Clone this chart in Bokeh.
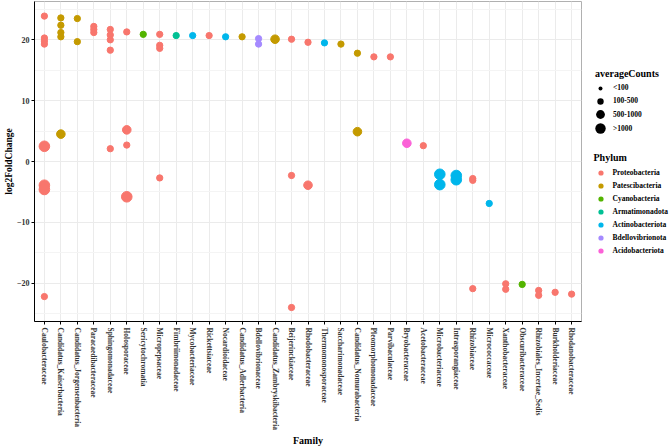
import math
from bokeh.plotting import figure
from bokeh.layouts import row
from bokeh.models import (ColumnDataSource, FactorRange, Range1d, Legend, LegendItem,
                          FixedTicker, CDSView, GroupFilter)
from bokeh.embed import file_html
from bokeh.resources import INLINE

# ---------------- data ----------------
families = [
    "Caulobacteraceae", "Candidatus_Kaiserbacteria", "Candidatus_Jorgensenbacteria",
    "Paracaedibacteraceae", "Sphingomonadaceae", "Holosporaceae", "Sericytochromatia",
    "Micropepsaceae", "Fimbriimonadaceae", "Mycobacteriaceae", "Rickettsiaceae",
    "Nocardioidaceae", "Candidatus_Adlerbacteria", "Bdellovibrionaceae",
    "Candidatus_Zambryskibacteria", "Beijerinckiaceae", "Rhodobacteraceae",
    "Thermomonosporaceae", "Saccharimonadaceae", "Candidatus_Nomurabacteria",
    "Pleomorphomonadaceae", "Parvibaculaceae", "Bryobacteraceae", "Acetobacteraceae",
    "Microbacteriaceae", "Intrasporangiaceae", "Rhizobiaceae", "Micrococcaceae",
    "Xanthobacteraceae", "Obscuribacteraceae", "Rhizobiales_Incertae_Sedis",
    "Burkholderiaceae", "Rhodanobacteraceae",
]

phyla = ["Proteobacteria", "Patescibacteria", "Cyanobacteria", "Armatimonadota",
         "Actinobacteriota", "Bdellovibrionota", "Acidobacteriota"]

count_levels = ["<100", "100-500", "500-1000", ">1000"]

point_family = []
point_lfc = []
point_phylum = []
point_counts = []

def add(fam, phy, vals):
    for v, c in vals:
        point_family.append(fam)
        point_lfc.append(v)
        point_phylum.append(phy)
        point_counts.append(c)

add("Caulobacteraceae", "Proteobacteria",
    [(23.9, "100-500"), (20.3, "100-500"), (19.8, "100-500"), (19.3, "100-500"),
     (2.5, ">1000"), (-3.9, ">1000"), (-4.6, ">1000"), (-22.2, "100-500")])
add("Candidatus_Kaiserbacteria", "Patescibacteria",
    [(23.6, "100-500"), (22.4, "100-500"), (21.2, "100-500"), (20.5, "100-500"),
     (4.5, "500-1000")])
add("Candidatus_Jorgensenbacteria", "Patescibacteria", [(23.5, "100-500"), (19.7, "100-500")])
add("Paracaedibacteraceae", "Proteobacteria",
    [(22.2, "100-500"), (21.7, "100-500"), (21.2, "100-500")])
add("Sphingomonadaceae", "Proteobacteria",
    [(21.7, "100-500"), (20.8, "100-500"), (20.0, "100-500"), (18.3, "100-500"),
     (2.1, "100-500")])
add("Holosporaceae", "Proteobacteria",
    [(21.3, "100-500"), (5.2, "500-1000"), (2.7, "100-500"), (-5.8, ">1000")])
add("Sericytochromatia", "Cyanobacteria", [(20.9, "100-500")])
add("Micropepsaceae", "Proteobacteria",
    [(20.9, "100-500"), (19.1, "100-500"), (18.6, "100-500"), (-2.7, "100-500")])
add("Fimbriimonadaceae", "Armatimonadota", [(20.7, "100-500")])
add("Mycobacteriaceae", "Actinobacteriota", [(20.7, "100-500")])
add("Rickettsiaceae", "Proteobacteria", [(20.7, "100-500")])
add("Nocardioidaceae", "Actinobacteriota", [(20.5, "100-500")])
add("Candidatus_Adlerbacteria", "Patescibacteria", [(20.5, "100-500")])
add("Bdellovibrionaceae", "Bdellovibrionota", [(20.2, "100-500"), (19.3, "100-500")])
add("Candidatus_Zambryskibacteria", "Patescibacteria", [(20.1, "500-1000")])
add("Beijerinckiaceae", "Proteobacteria",
    [(20.1, "100-500"), (-2.3, "100-500"), (-24.0, "100-500")])
add("Rhodobacteraceae", "Proteobacteria", [(19.6, "100-500"), (-3.9, "500-1000")])
add("Thermomonosporaceae", "Actinobacteriota", [(19.5, "100-500")])
add("Saccharimonadaceae", "Patescibacteria", [(19.3, "100-500")])
add("Candidatus_Nomurabacteria", "Patescibacteria", [(17.8, "100-500"), (4.9, "500-1000")])
add("Pleomorphomonadaceae", "Proteobacteria", [(17.2, "100-500")])
add("Parvibaculaceae", "Proteobacteria", [(17.2, "100-500")])
add("Bryobacteraceae", "Acidobacteriota", [(3.0, "500-1000")])
add("Acetobacteraceae", "Proteobacteria", [(2.6, "100-500")])
add("Microbacteriaceae", "Actinobacteriota", [(-2.1, ">1000"), (-3.8, ">1000")])
add("Intrasporangiaceae", "Actinobacteriota", [(-2.3, ">1000"), (-3.0, ">1000")])
add("Rhizobiaceae", "Proteobacteria", [(-2.8, "100-500"), (-3.1, "100-500"), (-20.9, "100-500")])
add("Micrococcaceae", "Actinobacteriota", [(-6.9, "100-500")])
add("Xanthobacteraceae", "Proteobacteria", [(-20.1, "100-500"), (-21.0, "100-500")])
add("Obscuribacteraceae", "Cyanobacteria", [(-20.2, "100-500")])
add("Rhizobiales_Incertae_Sedis", "Proteobacteria", [(-21.2, "100-500"), (-22.0, "100-500")])
add("Burkholderiaceae", "Proteobacteria", [(-21.5, "100-500")])
add("Rhodanobacteraceae", "Proteobacteria", [(-21.8, "100-500")])

y_ticks = [-20, -10, 0, 10, 20]

# ---------------- styles ----------------
FONT = "Liberation Serif"
phylum_colors = ["#F8766D", "#C49A00", "#53B400", "#00C094", "#00B6EB", "#A58AFF", "#FB61D7"]
count_px = {"<100": 4, "100-500": 6.3, "500-1000": 8.6, ">1000": 10.6}
legend_glyph = {"<100": 10, "100-500": 16, "500-1000": 22, ">1000": 26}
legend_row = {"<100": 14, "100-500": 26, "500-1000": 26, ">1000": 26}

src = ColumnDataSource(dict(
    family=point_family, lfc=point_lfc, phylum=point_phylum, counts=point_counts,
    size=[count_px[c] for c in point_counts],
))

FH = 320
TOP = 1
P_W = 590
p = figure(
    x_range=FactorRange(factors=families, range_padding=0.1, range_padding_units="absolute"),
    y_range=Range1d(-26.3, 26.3),
    width=P_W, frame_height=FH,
    min_border_top=TOP, min_border_right=9, min_border_left=0, min_border_bottom=2,
    output_backend="svg", toolbar_location=None,
)
p.background_fill_color = "white"
p.border_fill_color = "white"
p.outline_line_color = "#b0b0b0"
p.outline_line_width = 1

p.xgrid.grid_line_color = "#ebebeb"
p.ygrid.grid_line_color = "#ebebeb"
p.ygrid.minor_grid_line_color = "#f4f4f4"
p.yaxis.ticker = FixedTicker(ticks=y_ticks, minor_ticks=[-25, -15, -5, 5, 15, 25])

for ax in (p.xaxis[0], p.yaxis[0]):
    ax.axis_line_color = "black"
    ax.axis_line_width = 1
    ax.major_tick_line_color = "black"
    ax.major_tick_out = 3
    ax.major_tick_in = 0
    ax.minor_tick_line_color = None
    ax.major_label_text_font = FONT
    ax.major_label_text_font_style = "bold"
    ax.major_label_text_color = "#333333"
    ax.axis_label_text_font = FONT
    ax.axis_label_text_font_style = "bold"
    ax.axis_label_text_color = "black"
    ax.major_label_standoff = 3

p.xaxis.major_label_text_font_size = "7.5px"
p.yaxis.major_label_text_font_size = "8px"
p.xaxis.axis_label_text_font_size = "10px"
p.yaxis.axis_label_text_font_size = "9.5px"
p.xaxis.axis_label = "Family"
p.yaxis.axis_label = "log2FoldChange"
p.xaxis.major_label_orientation = -math.pi / 2
p.xaxis.axis_label_standoff = 2
p.yaxis.axis_label_standoff = 0
p.yaxis.major_label_standoff = 1

for ph, col in zip(phyla, phylum_colors):
    view = CDSView(filter=GroupFilter(column_name="phylum", group=ph))
    p.scatter("family", "lfc", source=src, view=view, marker="circle", size="size",
              fill_color=col, line_color=col)

# ---------------- legend panel (separate figure, nothing drawn in its view) ----------------
L_W = 669 - P_W
lf = figure(width=L_W, frame_height=FH, x_range=Range1d(1000, 1001), y_range=Range1d(1000, 1001),
            x_axis_type=None, y_axis_type=None,
            min_border_top=TOP, min_border_left=0, min_border_right=0, min_border_bottom=0,
            output_backend="svg", toolbar_location=None)
lf.outline_line_color = None
lf.background_fill_color = "white"
lf.border_fill_color = "white"

# one black key renderer (over all points, out of view) for the size legend keys
size_key = lf.scatter("lfc", "lfc", source=src, marker="circle",
                      size=0, fill_color="black", line_color=None)
phylum_renderers = []
for ph, col in zip(phyla, phylum_colors):
    view = CDSView(filter=GroupFilter(column_name="phylum", group=ph))
    phylum_renderers.append(lf.scatter("lfc", "lfc", source=src, view=view, marker="circle",
                                       size=0, fill_color=col, line_color=None))

cx = 10        # glyph centre x in legend panel
label_x = 23   # label start x
FB = TOP + FH  # frame bottom (page y)

def common(lg):
    lg.padding = 0
    lg.margin = 0
    lg.spacing = 0
    lg.border_line_alpha = 0
    lg.background_fill_alpha = 0
    lg.label_text_font = FONT
    lg.label_text_font_style = "bold"
    lg.label_text_font_size = "7.5px"
    lg.label_text_color = "black"
    lg.title_text_font = FONT
    lg.title_text_font_style = "bold"
    lg.title_text_font_size = "10px"
    lg.title_text_color = "black"
    lg.title_standoff = 3

size_centres = [87.5, 100.8, 114.2, 128.2]
for i, (lvl, yc) in enumerate(zip(count_levels, size_centres)):
    gw = legend_glyph[lvl]
    rh = legend_row[lvl]
    lg = Legend(items=[LegendItem(label=lvl, renderers=[size_key])],
                location=(cx - gw / 2, FB - yc - rh / 2))
    common(lg)
    lg.label_height = rh
    lg.glyph_width = gw
    lg.glyph_height = gw
    lg.label_standoff = int(round(label_x - (cx + gw / 2)))
    if i == 0:
        lg.title = "averageCounts"
        lg.title_standoff = 2
    lf.add_layout(lg, "center")

gp = 13
last_c = 250.5
plg = Legend(items=[LegendItem(label=ph, renderers=[r]) for ph, r in zip(phyla, phylum_renderers)],
             location=(cx - gp / 2, FB - last_c - gp / 2))
common(plg)
plg.label_height = gp
plg.glyph_width = gp
plg.glyph_height = gp
plg.label_standoff = int(round(label_x - (cx + gp / 2)))
plg.title = "Phylum"
lf.add_layout(plg, "center")

layout = row(p, lf, spacing=0)
open("out.html", "w").write(file_html(layout, INLINE))
